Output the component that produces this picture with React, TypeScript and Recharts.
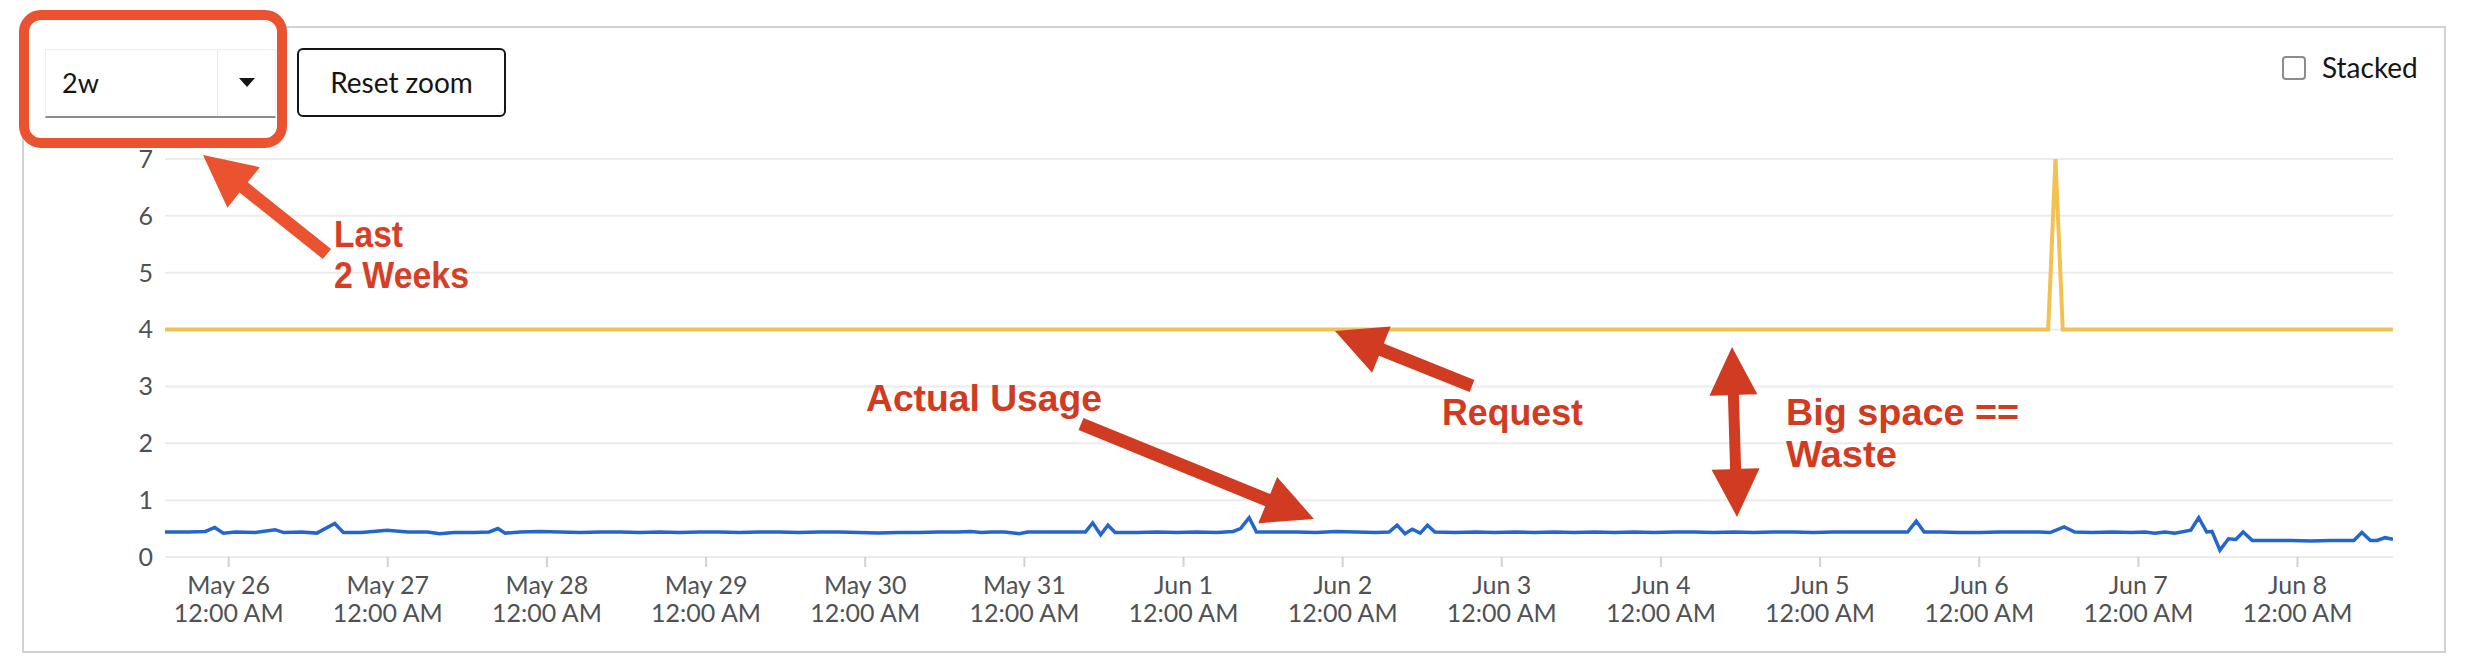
import React from 'react';
import { LineChart, Line, XAxis, YAxis, CartesianGrid } from 'recharts';

// x values are hours counted from May 26, 12:00 AM
const usageHours = [
  -9.6, -6, -3.5, -2.1, -0.8, 1, 4, 7, 8.3, 11, 13.3, 16, 17.3, 20, 23.9, 27, 30, 31.8, 34, 37, 39.3, 40.6, 41.7,
  44, 47, 50, 53, 56, 59, 62, 65, 68, 71, 74, 77, 80, 83, 86, 89, 92, 95, 98, 101, 104, 107, 110, 112, 113.5,
  115, 117, 119.2, 120.5, 124, 128, 129.2, 130.3, 131.5, 132.6, 133.7, 137, 140, 143, 146, 149, 151.5, 152.6,
  153.9, 155, 158, 161, 164, 167, 170, 173, 175, 176.2, 177.4, 178.5, 179.7, 180.8, 181.9, 185, 188, 191, 194,
  197, 200, 203, 206, 209, 212, 215, 218, 221, 224, 227, 230, 233, 236, 239, 242, 245, 248, 251, 253.2, 254.5,
  255.7, 258, 261, 264, 267, 270, 273, 274.7, 276.8, 278.4, 281, 284, 287, 289, 290.5, 292, 293.5, 295.9,
  297.1, 298.3, 299.1, 300.3, 301.6, 302.7, 303.8, 305.2, 308, 311, 314, 317, 320.5, 321.7, 323, 324, 325.2, 326.4,
];
const usageValues = [
  0.44, 0.44, 0.45, 0.52, 0.42, 0.44, 0.43, 0.48, 0.43, 0.44, 0.42, 0.59, 0.43, 0.43, 0.47, 0.44, 0.44, 0.41, 0.43, 0.43, 0.44, 0.5, 0.42,
  0.44, 0.45, 0.44, 0.43, 0.44, 0.44, 0.43, 0.44, 0.43, 0.44, 0.44, 0.43, 0.44, 0.44, 0.43, 0.44, 0.44, 0.43, 0.42, 0.43, 0.43, 0.44, 0.44, 0.45, 0.43,
  0.44, 0.44, 0.41, 0.44, 0.44, 0.44, 0.44, 0.6, 0.39, 0.56, 0.43, 0.43, 0.44, 0.43, 0.44, 0.43, 0.45, 0.5,
  0.69, 0.44, 0.44, 0.44, 0.43, 0.45, 0.44, 0.43, 0.44, 0.56, 0.41, 0.49, 0.42, 0.56, 0.44, 0.43, 0.44, 0.43, 0.44,
  0.43, 0.44, 0.43, 0.44, 0.43, 0.44, 0.43, 0.44, 0.44, 0.43, 0.44, 0.43, 0.44, 0.44, 0.43, 0.44, 0.44, 0.44, 0.44, 0.44, 0.63,
  0.44, 0.44, 0.43, 0.43, 0.44, 0.44, 0.44, 0.43, 0.53, 0.44, 0.43, 0.44, 0.43, 0.44, 0.42, 0.44, 0.42, 0.47,
  0.69, 0.44, 0.45, 0.12, 0.32, 0.31, 0.44, 0.29, 0.29, 0.29, 0.28, 0.29, 0.29, 0.43, 0.29, 0.29, 0.34, 0.31,
];
const requestHours = [-9.6, 274.4, 275.5, 276.6, 326.4];
const requestValues = [4, 4, 7, 4, 4];

const dayTicks = [0, 24, 48, 72, 96, 120, 144, 168, 192, 216, 240, 264, 288, 312];
const dayLabels = ['May 26', 'May 27', 'May 28', 'May 29', 'May 30', 'May 31', 'Jun 1', 'Jun 2', 'Jun 3', 'Jun 4', 'Jun 5', 'Jun 6', 'Jun 7', 'Jun 8'];
const valueTicks = [0, 1, 2, 3, 4, 5, 6, 7];

const usageData = usageHours.map((h, i) => ({ h, v: usageValues[i] }));
const requestData = requestHours.map((h, i) => ({ h, v: requestValues[i] }));

const UI_FONT = 'Lato, "Open Sans", sans-serif';
const NOTE_FONT = '"Liberation Sans", Arial, Helvetica, sans-serif';
const RED = '#d13b21';
const ORANGE = '#ea5230';

function DayTick(props: any) {
  const { x, y, payload } = props;
  const idx = dayTicks.indexOf(payload.value);
  return (
    <text x={x} textAnchor="middle" fill="#4f5255" fontSize={25} fontFamily={UI_FONT}>
      <tspan x={x} y={y + 27}>{dayLabels[idx]}</tspan>
      <tspan x={x} y={y + 55}>12:00 AM</tspan>
    </text>
  );
}

// annotation arrow outline
function arrow(x1: number, y1: number, x2: number, y2: number, shaft = 13, headLen = 50, headW = 50) {
  const len = Math.hypot(x2 - x1, y2 - y1);
  const ux = (x2 - x1) / len, uy = (y2 - y1) / len;
  const nx = -uy, ny = ux;
  const bx = x2 - ux * headLen, by = y2 - uy * headLen;
  const pts = [
    [x1 + nx * shaft / 2, y1 + ny * shaft / 2],
    [bx + nx * shaft / 2, by + ny * shaft / 2],
    [bx + nx * headW / 2, by + ny * headW / 2],
    [x2, y2],
    [bx - nx * headW / 2, by - ny * headW / 2],
    [bx - nx * shaft / 2, by - ny * shaft / 2],
    [x1 - nx * shaft / 2, y1 - ny * shaft / 2],
  ];
  return pts.map((p) => p.join(',')).join(' ');
}

function doubleArrow(x1: number, y1: number, x2: number, y2: number, shaft = 11, headLen = 48, headW = 48) {
  const len = Math.hypot(x2 - x1, y2 - y1);
  const ux = (x2 - x1) / len, uy = (y2 - y1) / len;
  const nx = -uy, ny = ux;
  const ax = x1 + ux * headLen, ay = y1 + uy * headLen;
  const bx = x2 - ux * headLen, by = y2 - uy * headLen;
  const pts = [
    [x1, y1],
    [ax + nx * headW / 2, ay + ny * headW / 2],
    [ax + nx * shaft / 2, ay + ny * shaft / 2],
    [bx + nx * shaft / 2, by + ny * shaft / 2],
    [bx + nx * headW / 2, by + ny * headW / 2],
    [x2, y2],
    [bx - nx * headW / 2, by - ny * headW / 2],
    [bx - nx * shaft / 2, by - ny * shaft / 2],
    [ax - nx * shaft / 2, ay - ny * shaft / 2],
    [ax - nx * headW / 2, ay - ny * headW / 2],
  ];
  return pts.map((p) => p.join(',')).join(' ');
}

export default function App() {
  return (
    <div style={{ position: 'absolute', left: 0, top: 0, width: 2468, height: 666, background: '#fff', overflow: 'hidden', fontFamily: UI_FONT }}>
      {/* card border */}
      <div style={{ position: 'absolute', left: 22, top: 26, width: 2420, height: 623, border: '2px solid #d2d2d2' }} />

      {/* highlight box round the range select */}
      <div style={{ position: 'absolute', left: 19, top: 10, width: 248, height: 118, border: `10px solid ${ORANGE}`, borderRadius: 22, background: '#fff' }} />

      {/* range select */}
      <div style={{ position: 'absolute', left: 45, top: 49, width: 229, height: 66, borderTop: '1px solid #f0f0f0', borderLeft: '1px solid #f0f0f0', borderRight: '1px solid #f0f0f0', borderBottom: '2px solid #8a8d90', background: '#fff' }}>
        <div style={{ position: 'absolute', left: 16, top: 0, height: 66, lineHeight: '66px', fontSize: 27, color: '#151515' }}>2w</div>
        <div style={{ position: 'absolute', left: 171, top: 0, width: 1, height: 66, background: '#e8e8e8' }} />
        <svg style={{ position: 'absolute', left: 193, top: 28 }} width={16} height={10}>
          <polygon points="0,0 16,0 8,9" fill="#151515" />
        </svg>
      </div>

      {/* reset zoom button */}
      <div style={{ position: 'absolute', left: 297, top: 48, width: 205, height: 65, border: '2px solid #151515', borderRadius: 6, lineHeight: '65px', textAlign: 'center', fontSize: 28, color: '#151515' }}>
        Reset zoom
      </div>

      {/* stacked checkbox */}
      <div style={{ position: 'absolute', left: 2282, top: 56, width: 20, height: 20, border: '2px solid #8a8d90', borderRadius: 4, background: '#fff' }} />
      <div style={{ position: 'absolute', left: 2322, top: 49, height: 36, lineHeight: '36px', fontSize: 28, color: '#151515' }}>Stacked</div>

      {/* chart */}
      <div style={{ position: 'absolute', left: 0, top: 0 }}>
        <LineChart width={2468} height={666} margin={{ top: 159, right: 75, bottom: 49, left: 105 }}>
          <CartesianGrid horizontal vertical={false} stroke="#ececec" strokeWidth={2} />
          <XAxis
            type="number"
            dataKey="h"
            domain={[-9.6, 326.4]}
            ticks={dayTicks}
            allowDataOverflow
            height={60}
            axisLine={false}
            tickLine={{ stroke: '#d2d2d2', strokeWidth: 2 }}
            tickSize={10}
            tickMargin={0}
            interval={0}
            tick={<DayTick />}
          />
          <YAxis
            type="number"
            domain={[0, 7]}
            ticks={valueTicks}
            width={60}
            axisLine={false}
            tickLine={false}
            tickSize={0}
            tickMargin={12}
            tick={{ fontSize: 25, fill: '#4f5255', fontFamily: UI_FONT }}
          />
          <Line data={requestData} dataKey="v" type="linear" stroke="#f1c152" strokeWidth={4} dot={false} isAnimationActive={false} />
          <Line data={usageData} dataKey="v" type="linear" stroke="#2566cc" strokeWidth={3.5} dot={false} isAnimationActive={false} />
        </LineChart>
      </div>

      {/* annotations */}
      <svg style={{ position: 'absolute', left: 0, top: 0, pointerEvents: 'none' }} width={2468} height={666}>
        <polygon points={arrow(327, 254, 203, 155, 13, 52, 52)} fill={ORANGE} />
        <text x={334} y={247} fill="#d63f25" fontFamily={NOTE_FONT} fontWeight="bold" fontSize={36} textLength={69} lengthAdjust="spacingAndGlyphs">Last</text>
        <text x={334} y={288} fill="#d63f25" fontFamily={NOTE_FONT} fontWeight="bold" fontSize={36} textLength={135} lengthAdjust="spacingAndGlyphs">2 Weeks</text>

        <text x={866} y={411} fill={RED} fontFamily={NOTE_FONT} fontWeight="bold" fontSize={37} textLength={236} lengthAdjust="spacingAndGlyphs">Actual Usage</text>
        <polygon points={arrow(1081, 424, 1314, 519, 13, 50, 50)} fill={RED} />

        <polygon points={arrow(1472, 386, 1335, 331, 13, 50, 50)} fill={RED} />
        <text x={1442} y={425} fill={RED} fontFamily={NOTE_FONT} fontWeight="bold" fontSize={37} textLength={141} lengthAdjust="spacingAndGlyphs">Request</text>

        <polygon points={doubleArrow(1732, 347, 1737, 517, 11, 48, 48)} fill={RED} />
        <text x={1786} y={425} fill={RED} fontFamily={NOTE_FONT} fontWeight="bold" fontSize={37} textLength={233} lengthAdjust="spacingAndGlyphs">Big space ==</text>
        <text x={1786} y={467} fill={RED} fontFamily={NOTE_FONT} fontWeight="bold" fontSize={37} textLength={111} lengthAdjust="spacingAndGlyphs">Waste</text>
      </svg>
    </div>
  );
}
